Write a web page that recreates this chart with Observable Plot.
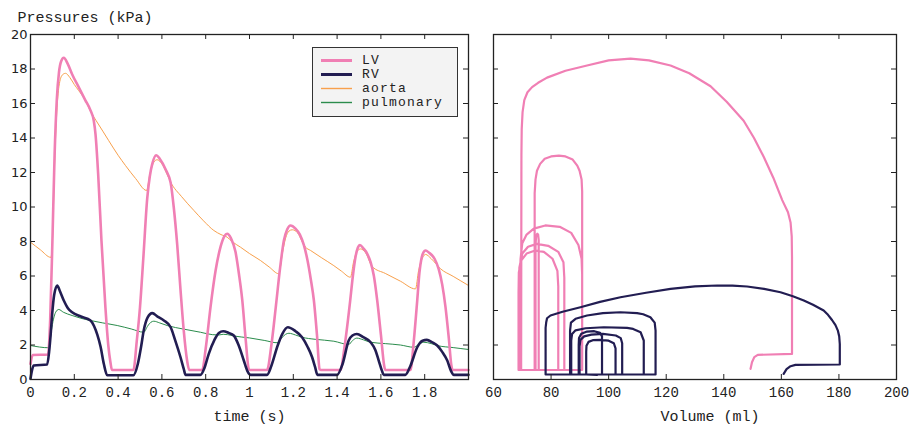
<!DOCTYPE html>
<html>
<head>
<meta charset="utf-8">
<script src="https://cdn.jsdelivr.net/npm/d3@7"></script>
<script src="https://cdn.jsdelivr.net/npm/@observablehq/plot@0.6"></script>
<style>
  html, body { margin: 0; padding: 0; background: #fff; }
  #wrap { position: relative; width: 915px; height: 428px; overflow: hidden; }
  #wrap > svg, #wrap > figure { position: absolute; top: 0; margin: 0; }
</style>
</head>
<body>
<div id="wrap"></div>
<script>
// ---------- time series (t in s, pressure in kPa) ----------
const lvT = [0,0.01,0.08,0.09,0.1,0.11,0.12,0.13,0.14,0.152,0.17,0.19,0.22,0.25,0.274,0.289,0.297,0.309,0.324,0.342,0.355,0.365,0.372,0.47,0.485,0.5,0.515,0.533,0.545,0.556,0.574,0.59,0.62,0.64,0.654,0.67,0.685,0.7,0.715,0.725,0.784,0.8,0.822,0.845,0.868,0.885,0.898,0.915,0.936,0.952,0.967,0.982,0.997,1.002,1.08,1.1,1.12,1.14,1.157,1.172,1.187,1.21,1.23,1.248,1.265,1.28,1.294,1.308,1.32,1.325,1.415,1.435,1.46,1.472,1.484,1.495,1.504,1.52,1.537,1.553,1.568,1.583,1.6,1.615,1.62,1.735,1.75,1.766,1.776,1.785,1.795,1.804,1.82,1.845,1.864,1.88,1.895,1.91,1.922,1.927,2.0];
const lvP = [0.9,1.42,1.45,3.5,8,13,16.2,17.8,18.45,18.65,18.3,17.7,16.95,16.2,15.6,15.0,14.2,11.9,8.06,4.2,2.0,1.0,0.55,0.55,2.2,4.2,7.0,10.5,11.8,12.5,13.0,12.8,12.1,11.4,10.0,7.8,5.2,2.8,1.1,0.55,0.55,1.8,4.2,6.3,7.7,8.3,8.45,8.2,7.4,6.1,4.6,2.4,0.6,0.55,0.55,2.0,4.2,6.5,8.06,8.7,8.93,8.75,8.4,7.8,6.9,5.8,4.58,2.6,0.6,0.55,0.55,2.0,4.6,6.0,7.1,7.65,7.8,7.6,7.3,6.8,6.0,4.6,2.6,0.8,0.55,0.55,2.2,4.6,6.2,7.0,7.38,7.48,7.35,7.0,6.4,5.5,4.2,2.4,0.8,0.55,0.55];

const rvT = [0,0.008,0.015,0.076,0.085,0.092,0.099,0.108,0.122,0.135,0.152,0.17,0.19,0.23,0.274,0.29,0.305,0.32,0.335,0.35,0.47,0.49,0.505,0.517,0.535,0.556,0.58,0.609,0.64,0.66,0.685,0.7,0.708,0.776,0.795,0.814,0.84,0.86,0.88,0.905,0.928,0.95,0.974,0.99,1.005,1.08,1.1,1.126,1.15,1.175,1.21,1.24,1.265,1.286,1.3,1.31,1.4,1.425,1.453,1.47,1.49,1.52,1.553,1.575,1.59,1.605,1.613,1.712,1.735,1.766,1.79,1.81,1.835,1.857,1.88,1.903,1.92,1.933,2.0];
const rvP = [0.04,0.6,0.81,0.87,1.6,2.6,3.8,4.9,5.45,5.1,4.58,4.15,3.9,3.65,3.42,3.1,2.6,1.9,0.9,0.25,0.25,0.9,1.9,2.84,3.6,3.85,3.65,3.42,3.03,2.3,1.29,0.6,0.27,0.27,0.7,1.49,2.3,2.7,2.8,2.7,2.55,2.0,1.1,0.5,0.27,0.27,0.8,1.87,2.65,3.03,2.8,2.45,1.9,1.29,0.7,0.27,0.27,0.9,2.26,2.55,2.64,2.45,2.16,1.7,1.1,0.5,0.27,0.27,0.8,1.87,2.25,2.3,2.15,1.97,1.6,1.1,0.5,0.27,0.27];

const aoT = [0,0.045,0.093,0.1,0.11,0.12,0.13,0.145,0.16,0.18,0.2,0.22,0.25,0.274,0.3,0.33,0.357,0.4,0.434,0.48,0.53,0.545,0.556,0.57,0.578,0.6,0.62,0.64,0.69,0.746,0.79,0.837,0.87,0.898,0.92,0.959,1.0,1.05,1.09,1.134,1.15,1.165,1.18,1.195,1.22,1.24,1.256,1.279,1.33,1.385,1.42,1.461,1.475,1.49,1.507,1.53,1.56,1.62,1.689,1.758,1.772,1.79,1.804,1.83,1.872,1.93,2.0];
const aoP = [7.96,7.52,7.08,8.0,12.5,15.5,17.0,17.65,17.75,17.5,17.1,16.75,16.2,15.55,15.0,14.4,13.85,13.0,12.4,11.65,10.96,11.9,12.4,12.7,12.74,12.5,12.0,11.44,10.6,9.8,9.2,8.64,8.4,8.25,8.0,7.67,7.3,6.9,6.52,6.13,7.3,8.2,8.6,8.68,8.5,8.0,7.67,7.48,7.05,6.6,6.28,5.93,6.8,7.4,7.57,7.35,6.55,6.15,5.7,5.25,6.3,7.05,7.25,7.0,6.42,5.98,5.45];

const paT = [0,0.084,0.095,0.105,0.115,0.129,0.15,0.19,0.23,0.274,0.33,0.396,0.46,0.517,0.535,0.55,0.563,0.59,0.624,0.7,0.776,0.83,0.86,0.88,0.9,0.93,1.0,1.07,1.126,1.15,1.165,1.18,1.21,1.24,1.3,1.385,1.453,1.47,1.49,1.52,1.553,1.62,1.689,1.75,1.775,1.796,1.83,1.857,1.93,2.0];
const paP = [1.97,1.84,2.8,3.5,3.9,4.06,3.9,3.71,3.55,3.42,3.28,3.13,2.93,2.74,3.1,3.32,3.38,3.28,3.13,2.92,2.74,2.6,2.58,2.62,2.6,2.52,2.41,2.26,2.13,2.45,2.62,2.68,2.58,2.45,2.33,2.22,2.03,2.25,2.4,2.3,2.16,2.08,2.0,1.87,2.05,2.16,2.08,1.97,1.85,1.74];

// ---------- pressure-volume loops (volume in ml, pressure in kPa) ----------
const lvLoopV = [149.3,149.8,150.6,151.8,163.7,163.7,163.6,163.2,162.3,160.3,157.2,153.9,150.5,146.9,141,135.4,128,121.5,114,107.6,100,92.5,85,78.6,75.5,73.4,71.8,70.7,70.1,69.8,69.7,69.6,
  90.8,90.8,90.6,89.9,89.1,87.5,85,82.7,80,77.8,76.2,75.1,74.6,74.3,74.3,
  75.7,75.7,75.5,75.2,74.8,74.6,74.6,
  90.8,90.8,90.6,89.5,87,83,78,74,71.5,70,69.4,69.2,69.2,
  84.6,84.6,84.3,82.5,79,75,72,70,69.0,68.8,68.8,
  82.5,82.5,82.2,80.5,77.5,74.5,71.5,69.6,68.8,68.7,68.7,72];
const lvLoopP = [0.62,1.0,1.3,1.43,1.48,7.1,8.3,9.1,9.7,10.4,11.7,12.9,14.0,15.0,16.1,17.0,17.75,18.2,18.5,18.6,18.5,18.2,17.9,17.5,17.2,16.95,16.65,16.2,15.5,14.5,13,0.55,
  0.55,10.9,11.6,12.1,12.4,12.75,12.93,12.98,12.93,12.8,12.5,12.1,11.6,10.8,0.55,
  0.55,8.1,8.4,8.45,8.3,7.8,0.55,
  0.55,6.1,7.0,7.8,8.5,8.85,8.93,8.75,8.4,7.9,7.0,6,0.55,
  0.55,5.9,6.8,7.4,7.75,7.86,7.7,7.3,6.5,5.5,0.55,
  0.55,5.4,6.3,7.0,7.4,7.48,7.3,6.9,6.2,5,0.55,0.55];

const rvLoopV = [160.8,161.8,163.2,164.9,180.3,180.3,180.1,179.6,178.8,177.6,176.2,174.7,171,167.8,164,159.7,154,148.1,143,137.7,130,121.5,113,104.1,97,90.2,84,79.8,78.6,78.3,78.1,78.1,
  116.3,116.3,116.0,114.5,112,109.9,104.1,98,92.5,88.5,86.9,86.6,86.6,
  97.7,97.7,97,95,92.5,90.5,89.7,89.6,89.6,
  112.2,112.2,111.1,108.5,106.4,98.3,92,88.5,87.3,87.0,87.0,
  104.7,104.7,104.2,102.5,98,94,91.5,90.2,89.9,89.9,
  102.4,102.4,101.8,100,97,94.5,93,92.3,92.2,92.2,96];
const rvLoopP = [0.33,0.6,0.77,0.85,0.87,2.06,2.5,2.85,3.15,3.45,3.75,4.0,4.33,4.58,4.83,5.06,5.25,5.39,5.44,5.45,5.4,5.25,5.03,4.77,4.5,4.19,3.93,3.71,3.55,3.3,3.0,0.29,
  0.29,2.84,3.3,3.61,3.78,3.85,3.9,3.85,3.71,3.52,3.3,2.84,0.29,
  0.29,2.5,2.7,2.8,2.78,2.65,2.4,2.0,0.29,
  0.29,2.26,2.74,2.93,2.99,3.03,2.97,2.85,2.64,2.26,0.29,
  0.29,2.1,2.4,2.55,2.64,2.6,2.5,2.3,1.9,0.29,
  0.29,1.8,2.1,2.25,2.3,2.28,2.18,1.95,1.6,0.29,0.27];

const xTicksTime = [0,0.2,0.4,0.6,0.8,1,1.2,1.4,1.6,1.8];
const xTickMarksTime = [0.2,0.4,0.6,0.8,1,1.2,1.4,1.6,1.8];
const xTicksVol = [60,80,100,120,140,160,180,200];
const xTickMarksVol = [80,100,120,140,160,180];
const yTicks = [0,2,4,6,8,10,12,14,16,18,20];
const yTickMarks = [2,4,6,8,10,12,14,16,18];

const seriesNames = ["LV","RV","aorta","pulmonary"];
const seriesColors = ["#f07fb4","#221d52","#f8a04c","#2b8c4c"];
const seriesWidths = [2.6,2.6,1,1];

// ---------- build tables ----------
const pts = (xs, ys) => xs.map((x, i) => ({x, y: ys[i]}));
const lvTS = pts(lvT, lvP), rvTS = pts(rvT, rvP), aoTS = pts(aoT, aoP), paTS = pts(paT, paP);
const lvPV = pts(lvLoopV, lvLoopP), rvPV = pts(rvLoopV, rvLoopP);

const H = 428, MT = 34, MB = 49;
const innerH = H - MT - MB;
const mono = "'Liberation Mono', 'DejaVu Sans Mono', monospace";
const sans = "'DejaVu Sans', sans-serif";
const axisColor = "#222";

function frameMarks(innerW, xMarks) {
  return [
    Plot.tickX(xMarks, {x: d => d, insetTop: innerH - 5, stroke: axisColor}),
    Plot.tickX(xMarks, {x: d => d, insetBottom: innerH - 5, stroke: axisColor}),
    Plot.tickY(yTickMarks, {y: d => d, insetRight: innerW - 5, stroke: axisColor}),
    Plot.tickY(yTickMarks, {y: d => d, insetLeft: innerW - 5, stroke: axisColor}),
    Plot.frame({stroke: axisColor, strokeWidth: 1.3})
  ];
}

// ---------- left: pressures vs time ----------
const LW = 480, LML = 30, LMR = 12;
const left = Plot.plot({
  width: LW, height: H,
  marginLeft: LML, marginRight: LMR, marginTop: MT, marginBottom: MB,
  style: {fontFamily: mono, fontSize: "14px", color: "#222", background: "transparent", overflow: "visible"},
  x: {domain: [0, 2], axis: null},
  y: {domain: [0, 20], axis: null},
  marks: [
    Plot.lineY(aoTS, {x: "x", y: "y", stroke: seriesColors[2], strokeWidth: seriesWidths[2], curve: "monotone-x"}),
    Plot.lineY(paTS, {x: "x", y: "y", stroke: seriesColors[3], strokeWidth: seriesWidths[3], curve: "monotone-x"}),
    Plot.lineY(lvTS, {x: "x", y: "y", stroke: seriesColors[0], strokeWidth: seriesWidths[0], curve: "monotone-x"}),
    Plot.lineY(rvTS, {x: "x", y: "y", stroke: seriesColors[1], strokeWidth: seriesWidths[1], curve: "monotone-x"}),
    ...frameMarks(LW - LML - LMR, xTickMarksTime),
    Plot.axisX(xTicksTime, {anchor: "bottom", label: null, tickSize: 0, tickPadding: 8, fontSize: 14, tickFormat: d => String(d)}),
    Plot.axisY(yTicks, {anchor: "left", label: null, tickSize: 0, tickPadding: 3, fontFamily: sans, fontSize: 13, tickFormat: d => String(d)}),
    Plot.text(["time (s)"], {frameAnchor: "bottom", dy: 37, lineAnchor: "middle", fontSize: 15}),
    Plot.text(["Pressures (kPa)"], {frameAnchor: "top-left", dx: -13, dy: -17, lineAnchor: "middle", textAnchor: "start", fontSize: 15})
  ]
});

// ---------- right: pressure-volume loops ----------
const RW = 435, RML = 13, RMR = 19;
const right = Plot.plot({
  width: RW, height: H,
  marginLeft: RML, marginRight: RMR, marginTop: MT, marginBottom: MB,
  style: {fontFamily: mono, fontSize: "14px", color: "#222", background: "transparent", overflow: "visible"},
  x: {domain: [60, 200], axis: null},
  y: {domain: [0, 20], axis: null},
  marks: [
    Plot.line(lvPV, {x: "x", y: "y", stroke: seriesColors[0], strokeWidth: 2.2, strokeLinejoin: "round"}),
    Plot.line(rvPV, {x: "x", y: "y", stroke: seriesColors[1], strokeWidth: 2.2, strokeLinejoin: "round"}),
    ...frameMarks(RW - RML - RMR, xTickMarksVol),
    Plot.axisX(xTicksVol, {anchor: "bottom", label: null, tickSize: 0, tickPadding: 8, fontSize: 14, tickFormat: d => String(d)}),
    Plot.text(["Volume (ml)"], {frameAnchor: "bottom", dx: 15, dy: 37, lineAnchor: "middle", fontSize: 15})
  ]
});

const wrap = document.getElementById("wrap");
left.style.left = "0px";
right.style.left = LW + "px";
wrap.appendChild(left);
wrap.appendChild(right);

// ---------- legend ----------
const ns = "http://www.w3.org/2000/svg";
const leg = document.createElementNS(ns, "svg");
leg.setAttribute("width", 915); leg.setAttribute("height", 428);
leg.style.position = "absolute"; leg.style.left = "0px"; leg.style.top = "0px"; leg.style.pointerEvents = "none";
const box = document.createElementNS(ns, "rect");
box.setAttribute("x", 312.5); box.setAttribute("y", 47.5); box.setAttribute("width", 145); box.setAttribute("height", 69);
box.setAttribute("fill", "#f3f3f3"); box.setAttribute("stroke", "#333"); box.setAttribute("stroke-width", 1);
leg.appendChild(box);
const rowY = [60.5, 74.5, 88.5, 102.5];
seriesNames.forEach((name, i) => {
  const ln = document.createElementNS(ns, "line");
  ln.setAttribute("x1", 321); ln.setAttribute("x2", 352);
  ln.setAttribute("y1", rowY[i]); ln.setAttribute("y2", rowY[i]);
  ln.setAttribute("stroke", seriesColors[i]); ln.setAttribute("stroke-width", seriesWidths[i] + 0.4);
  leg.appendChild(ln);
  const tx = document.createElementNS(ns, "text");
  tx.setAttribute("x", 362); tx.setAttribute("y", rowY[i]);
  tx.setAttribute("dominant-baseline", "middle");
  tx.setAttribute("font-family", mono); tx.setAttribute("font-size", "13px");
  tx.setAttribute("letter-spacing", "1.2px"); tx.setAttribute("fill", "#222");
  tx.textContent = name;
  leg.appendChild(tx);
});
wrap.appendChild(leg);
</script>
</body>
</html>
